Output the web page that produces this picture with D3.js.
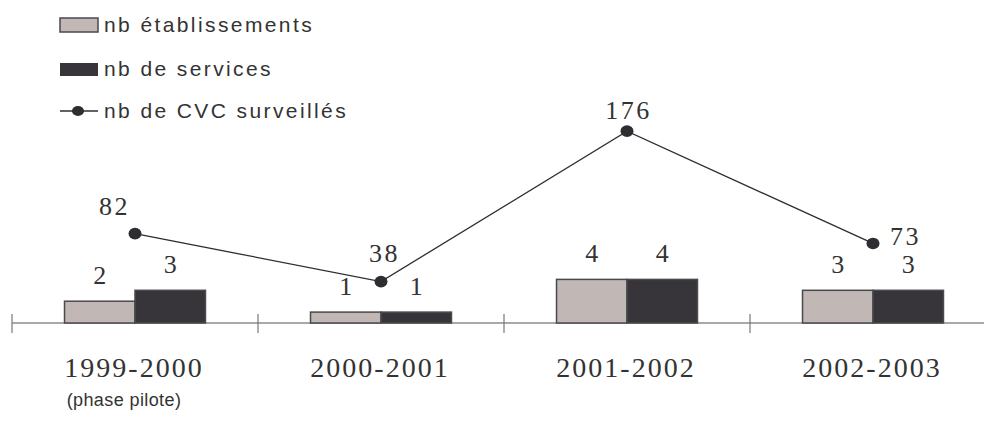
<!DOCTYPE html>
<html>
<head>
<meta charset="utf-8">
<script src="https://cdn.jsdelivr.net/npm/d3@7"></script>
<style>
  body { margin: 0; background: #fff; }
  svg { display: block; }
</style>
</head>
<body>
<svg id="chart" width="984" height="423"></svg>
<script>
// data
var years = ["1999-2000", "2000-2001", "2001-2002", "2002-2003"];
var nbEtablissements = [2, 1, 4, 3];
var nbServices = [3, 1, 4, 3];
var nbCVC = [82, 38, 176, 73];
var seriesNames = ["nb établissements", "nb de services", "nb de CVC surveillés"];
var subLabel = "(phase pilote)";

// where each CVC label sits relative to its point
var cvcLabelOffsets = [[-22, -19], [2, -20], [0, -12], [31, 2]];

var width = 984, height = 423;
var baseY = 323;
var colLight = "#c1b8b6", colDark = "#373539", colLine = "#2f2d31";

var svg = d3.select("#chart");

// band scale: one band per season, ticks at band edges
var x = d3.scaleBand().domain(years).range([12, 996]).padding(0);
var x1 = d3.scaleBand().domain([0, 1]).range([0, x.bandwidth()]).paddingInner(0).paddingOuter(0.745);

var yBar = d3.scaleLinear().domain([0, 20]).range([baseY, 105]);
var yLine = d3.scaleLinear().domain([0, 200]).range([baseY, 105]);

// axis line + ticks
svg.append("line")
  .attr("x1", 12).attr("x2", width)
  .attr("y1", baseY).attr("y2", baseY)
  .attr("stroke", "#8c8c8c").attr("stroke-width", 1.5);

svg.selectAll(".tick")
  .data(years)
  .enter().append("line")
  .attr("class", "tick")
  .attr("x1", function(d) { return x(d); })
  .attr("x2", function(d) { return x(d); })
  .attr("y1", baseY - 9).attr("y2", baseY + 10)
  .attr("stroke", "#777").attr("stroke-width", 1.2);

// bars
var groups = svg.selectAll(".grp")
  .data(years)
  .enter().append("g")
  .attr("class", "grp")
  .attr("transform", function(d) { return "translate(" + x(d) + ",0)"; });

var series = [nbEtablissements, nbServices];
var fills = [colLight, colDark];

series.forEach(function(vals, s) {
  groups.append("rect")
    .attr("x", x1(s))
    .attr("width", x1.bandwidth())
    .attr("y", function(d, i) { return yBar(vals[i]); })
    .attr("height", function(d, i) { return baseY - yBar(vals[i]); })
    .attr("fill", fills[s])
    .attr("stroke", "#4a4a4c")
    .attr("stroke-width", 1.5);

  groups.append("text")
    .attr("x", x1(s) + x1.bandwidth() / 2)
    .attr("y", function(d, i) { return yBar(vals[i]) - 17.5; })
    .attr("text-anchor", "middle")
    .attr("font-family", "'Liberation Serif', serif")
    .attr("font-size", 26)
    .attr("fill", "#333")
    .text(function(d, i) { return vals[i]; });
});

// line series
var line = d3.line()
  .x(function(d, i) { return x(years[i]) + x.bandwidth() / 2; })
  .y(function(d) { return yLine(d); });

svg.append("path")
  .datum(nbCVC)
  .attr("d", line)
  .attr("fill", "none")
  .attr("stroke", colLine)
  .attr("stroke-width", 1.3);

svg.selectAll(".dot")
  .data(nbCVC)
  .enter().append("ellipse")
  .attr("class", "dot")
  .attr("cx", function(d, i) { return x(years[i]) + x.bandwidth() / 2; })
  .attr("cy", function(d) { return yLine(d); })
  .attr("rx", 6.5).attr("ry", 5.8)
  .attr("fill", colLine);

svg.selectAll(".cvcLabel")
  .data(nbCVC)
  .enter().append("text")
  .attr("class", "cvcLabel")
  .attr("x", function(d, i) { return x(years[i]) + x.bandwidth() / 2 + cvcLabelOffsets[i][0] + 1.5; })
  .attr("y", function(d, i) { return yLine(d) + cvcLabelOffsets[i][1]; })
  .attr("text-anchor", "middle")
  .attr("font-family", "'Liberation Serif', serif")
  .attr("font-size", 26)
  .attr("letter-spacing", 2.5)
  .attr("fill", "#333")
  .text(function(d) { return d; });

// category labels
svg.selectAll(".cat")
  .data(years)
  .enter().append("text")
  .attr("class", "cat")
  .attr("x", function(d) { return x(d) + x.bandwidth() / 2 - 1; })
  .attr("y", 377)
  .attr("text-anchor", "middle")
  .attr("font-family", "'Liberation Serif', serif")
  .attr("font-size", 28)
  .attr("letter-spacing", 2)
  .attr("fill", "#333")
  .text(function(d) { return d; });

svg.append("text")
  .attr("x", x(years[0]) + x.bandwidth() / 2 - 11)
  .attr("y", 406)
  .attr("text-anchor", "middle")
  .attr("font-family", "'Liberation Sans', Arial, sans-serif")
  .attr("font-size", 18)
  .attr("letter-spacing", 0.4)
  .attr("fill", "#333")
  .text(subLabel);

// legend
var legend = svg.append("g");
var legY = [25, 69, 111];

legend.append("rect").attr("x", 60).attr("y", 18).attr("width", 38).attr("height", 14)
  .attr("fill", colLight).attr("stroke", "#4a4a4c").attr("stroke-width", 1.5);
legend.append("rect").attr("x", 60).attr("y", 63).attr("width", 38).attr("height", 13)
  .attr("fill", colDark);
legend.append("line").attr("x1", 60).attr("x2", 98).attr("y1", legY[2]).attr("y2", legY[2])
  .attr("stroke", colLine).attr("stroke-width", 1.3);
legend.append("ellipse").attr("cx", 78).attr("cy", legY[2]).attr("rx", 6).attr("ry", 5)
  .attr("fill", colLine);

legend.selectAll("text")
  .data(seriesNames)
  .enter().append("text")
  .attr("x", 104)
  .attr("y", function(d, i) { return legY[i] + 7; })
  .attr("font-family", "'Liberation Sans', Arial, sans-serif")
  .attr("font-size", 21)
  .attr("letter-spacing", 2.4)
  .attr("fill", "#333")
  .text(function(d) { return d; });
</script>
</body>
</html>
